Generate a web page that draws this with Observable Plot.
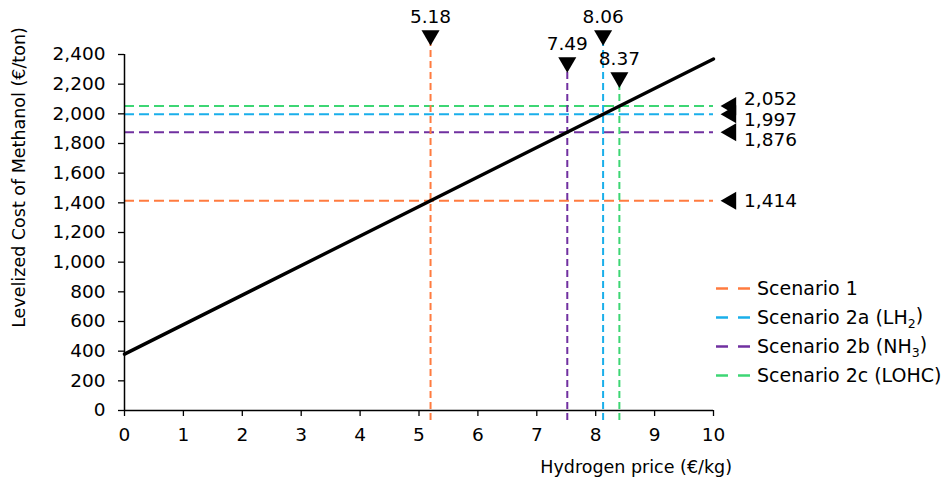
<!DOCTYPE html>
<html><head><meta charset="utf-8">
<script src="https://cdn.jsdelivr.net/npm/d3@7"></script>
<script src="https://cdn.jsdelivr.net/npm/@observablehq/plot@0.6"></script>
<style>body{margin:0;background:#fff} #chart{width:943px;height:480px}</style>
</head><body><div id="chart"></div>
<script>
// ---- data ----
const scenarioNames = ["Scenario 1", "Scenario 2a (LH2)", "Scenario 2b (NH3)", "Scenario 2c (LOHC)"];
const scenarioCosts = [1414, 1997, 1876, 2052];          // €/ton
const breakEvenPrices = [5.18, 8.06, 7.49, 8.37];        // €/kg (labels)
const scenarioColors = ["#FF7B3F", "#1AAFEA", "#7030A0", "#3DD674"];
const linePrices = [0, 10];                              // €/kg
const lineCosts = [380, 2370];                           // €/ton
const xTicks = [0, 1, 2, 3, 4, 5, 6, 7, 8, 9, 10];
const yTicks = [0, 200, 400, 600, 800, 1000, 1200, 1400, 1600, 1800, 2000, 2200, 2400];
const xTitle = "Hydrogen price (€/kg)";
const yTitle = "Levelized Cost of Methanol (€/ton)";

// ---- layout (annotation placement) ----
const markerLevel = [2529, 2529, 2347, 2245];
const rightLabelDy = [0, 6, 8, -7];

const fmt = d3.format(",");
const lineData = linePrices.map((p, i) => ({price: p, cost: lineCosts[i]}));
const crossAt = c => linePrices[0] + (c - lineCosts[0]) / (lineCosts[1] - lineCosts[0]) * (linePrices[1] - linePrices[0]);
const scen = scenarioNames.map((n, i) => ({
  name: n, cost: scenarioCosts[i], label: breakEvenPrices[i], color: scenarioColors[i],
  x: crossAt(scenarioCosts[i]), level: markerLevel[i]
}));

const s3 = Math.sqrt(3);
const triDown = {draw(ctx, size) { const y = Math.sqrt(size / (s3 * 3)); ctx.moveTo(0, 2 * y); ctx.lineTo(-s3 * y, -y); ctx.lineTo(s3 * y, -y); ctx.closePath(); }};
const triLeft = {draw(ctx, size) { const y = Math.sqrt(size / (s3 * 3)); ctx.moveTo(-2 * y, 0); ctx.lineTo(y, -s3 * y); ctx.lineTo(y, s3 * y); ctx.closePath(); }};

const FS = 18.5;
const plot = Plot.plot({
  width: 943, height: 480,
  marginLeft: 124, marginRight: 230, marginTop: 54, marginBottom: 70,
  style: {fontFamily: "DejaVu Sans", fontSize: FS + "px", color: "#000", background: "#fff"},
  x: {domain: [0, 10]},
  y: {domain: [0, 2400]},
  color: {type: "identity"},
  marks: [
    Plot.axisX({ticks: xTicks, tickSize: 6, tickPadding: 11, label: null, strokeWidth: 1.3, fontSize: FS}),
    Plot.axisY({ticks: yTicks, tickSize: 6, tickPadding: 13, tickFormat: fmt, label: null, strokeWidth: 1.3, fontSize: FS}),
    Plot.ruleY(scen, {y: "cost", x1: 0, x2: 10, stroke: "color", strokeWidth: 2, strokeDasharray: "10,5"}),
    Plot.ruleX(scen, {x: "x", y1: 0, y2: "level", stroke: "color", strokeWidth: 2, strokeDasharray: "7,4", insetTop: 10}),
    Plot.line(lineData, {x: "price", y: "cost", stroke: "#000", strokeWidth: 3.4}),
    Plot.ruleY([0], {stroke: "#000", strokeWidth: 1.5}),
    Plot.ruleX([0], {stroke: "#000", strokeWidth: 1.5}),
    Plot.dot(scen, {x: "x", y: "level", symbol: triDown, r: 6.7, fill: "#000", stroke: null}),
    Plot.text(scen, {x: "x", y: "level", text: d => d.label.toFixed(2), dy: -18, lineAnchor: "middle", fill: "#000", fontSize: FS}),
    Plot.dot(scen, {x: 10, y: "cost", symbol: triLeft, r: 6.7, dx: 17.5, fill: "#000", stroke: null}),
    ...scen.map((d, i) => Plot.text([d], {x: 10, y: "cost", text: d => fmt(d.cost), dx: 30.5, dy: rightLabelDy[i], textAnchor: "start", lineAnchor: "middle", fill: "#000", fontSize: FS}))
  ]
});
document.getElementById("chart").appendChild(plot);

const svg = d3.select(plot);
// make sure tick labels use the same type as the other labels
svg.selectAll('g[aria-label="y-axis tick label"] text, g[aria-label="x-axis tick label"] text')
  .style("font-size", FS + "px").style("font-family", "DejaVu Sans");

// titles and legend
svg.append("text").attr("transform", "translate(19,177.5) rotate(-90)")
  .attr("text-anchor", "middle").attr("dy", "0.35em")
  .style("font-size", "17.5px").attr("fill", "#000").text(yTitle);
svg.append("text").attr("x", 732).attr("y", 467)
  .attr("text-anchor", "end").attr("dy", "0.35em")
  .style("font-size", "17.5px").attr("fill", "#000").text(xTitle);

const lg = svg.append("g").attr("text-anchor", "start");
scen.forEach((d, i) => {
  const y = 288.5 + i * 29;
  lg.append("line").attr("x1", 716).attr("x2", 728).attr("y1", y).attr("y2", y).attr("stroke", d.color).attr("stroke-width", 2.5);
  lg.append("line").attr("x1", 738).attr("x2", 750).attr("y1", y).attr("y2", y).attr("stroke", d.color).attr("stroke-width", 2.5);
  const t = lg.append("text").attr("x", 757).attr("y", y).attr("dy", "0.35em")
    .attr("text-anchor", "start").style("font-size", "19px").attr("fill", "#000");
  const m = d.name.match(/^(.*[A-Z])(\d)(\))$/);
  if (m) {
    t.append("tspan").text(m[1]);
    t.append("tspan").attr("dy", "0.3em").style("font-size", "12.5px").text(m[2]);
    t.append("tspan").attr("dy", "-0.3em").text(m[3]);
  } else {
    t.text(d.name);
  }
});
</script>
</body></html>
